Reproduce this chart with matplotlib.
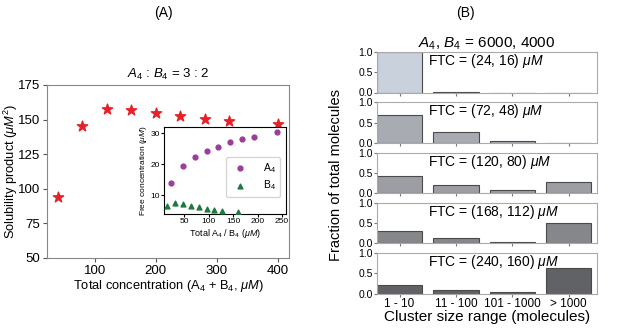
import numpy as np
import matplotlib
matplotlib.use("Agg")
import matplotlib.pyplot as plt

plt.rcParams['font.family'] = ['Liberation Sans', 'DejaVu Sans']
plt.rcParams['mathtext.fontset'] = 'custom'
plt.rcParams['mathtext.rm'] = 'Liberation Sans'
plt.rcParams['mathtext.it'] = 'Liberation Sans:italic'

# panel A: solubility product
total_conc = [40, 80, 120, 160, 200, 240, 280, 320, 400]
sol_product = [94, 145.5, 158, 157, 154.5, 152.5, 150.5, 149, 146.5]

# inset: free concentrations
total_a4 = [24, 48, 72, 96, 120, 144, 168, 192, 240]
free_a4 = [14.0, 19.5, 22.3, 24.2, 25.7, 27.0, 28.0, 28.9, 30.4]
total_b4 = [16, 32, 48, 64, 80, 96, 112, 128, 160]
free_b4 = [6.6, 7.5, 7.0, 6.4, 6.0, 5.5, 5.3, 5.0, 4.6]

# panel B: cluster size distributions
cluster_bins = ["1 - 10", "11 - 100", "101 - 1000", "> 1000"]
ftc_labels = ["(24, 16)", "(72, 48)", "(120, 80)", "(168, 112)", "(240, 160)"]
fractions = [
    [1.0, 0.005, 0.0, 0.0],
    [0.68, 0.27, 0.04, 0.0],
    [0.42, 0.19, 0.08, 0.28],
    [0.31, 0.13, 0.04, 0.50],
    [0.22, 0.10, 0.03, 0.63],
]
bar_colors = ["#c9d1dc", "#a8abb1", "#9c9ea3", "#85878b", "#606266"]

W, H = 617, 333
fig = plt.figure(figsize=(W / 100, H / 100), dpi=100)


def box(left, top, right, bottom):
    return [left / W, 1 - bottom / H, (right - left) / W, (bottom - top) / H]


# ---- panel A ----
ax = fig.add_axes(box(47, 85, 289, 258))
ax.scatter(total_conc, sol_product, marker='*', s=60, color='#e8202a', zorder=3)
ax.set_ylim(50, 175)
ax.set_yticks([50, 75, 100, 125, 150, 175])
ax.set_xticks([100, 200, 300, 400])
ax.tick_params(labelsize=9.5, length=3, pad=2, color='#555')
for s in ax.spines.values():
    s.set_color('#888')
ax.set_xlabel(r"Total concentration (A$_4$ + B$_4$, $\mu M$)", fontsize=9.3, labelpad=1)
ax.set_ylabel(r"Solubility product ($\mu M^2$)", fontsize=9.3)
ax.yaxis.set_label_coords(-27 / 242, 0.5)
ax.set_title(r"$A_4$ : $B_4$ = 3 : 2", fontsize=9.5, pad=5)

ins = fig.add_axes(box(164, 127, 285.5, 214))
ins.scatter(total_a4, free_a4, s=12, color='#9b3d9b', label=r"A$_4$", zorder=3)
ins.scatter(total_b4, free_b4, s=12, marker='^', color='#1d7a3c', label=r"B$_4$", zorder=3)
ins.set_xlim(9, 257)
ins.set_ylim(3.9, 32)
ins.set_xticks([50, 100, 150, 200, 250])
ins.set_yticks([10, 20, 30])
ins.tick_params(labelsize=6, length=2, pad=1)
ins.set_xlabel(r"Total A$_4$ / B$_4$ ($\mu M$)", fontsize=6.5, labelpad=1)
ins.set_ylabel(r"Free concentration ($\mu M$)", fontsize=6, labelpad=1)
ins.legend(loc='lower right', bbox_to_anchor=(1.0, 0.14), fontsize=7.5,
           handletextpad=1.2, borderpad=0.4, labelspacing=0.35, frameon=True)

fig.text(163 / W, 1 - 13 / H, "(A)", fontsize=10, ha='center', va='center')
fig.text(465 / W, 1 - 13 / H, "(B)", fontsize=10, ha='center', va='center')

# ---- panel B ----
x = np.arange(len(cluster_bins))
tops = [52, 102.3, 152.6, 202.9, 253.2]
for i, top in enumerate(tops):
    axb = fig.add_axes(box(377, top, 597, top + 40.5))
    axb.bar(x, fractions[i], width=0.8, color=bar_colors[i], edgecolor='#4a4a4a', linewidth=0.8)
    axb.set_xlim(-0.4, 3.5)
    axb.set_ylim(0, 1.0)
    axb.set_yticks([0.0, 0.5, 1.0])
    axb.set_xticks(x)
    axb.tick_params(labelsize=7.5, length=2, pad=1, color='#777')
    for s in axb.spines.values():
        s.set_color('#aaa')
    if i < len(tops) - 1:
        axb.set_xticklabels([])
    else:
        axb.set_xticklabels(cluster_bins, fontsize=8.5)
        axb.set_xlabel("Cluster size range (molecules)", fontsize=11, labelpad=0)
    axb.text(0.23, 0.78, "FTC = " + ftc_labels[i] + r" $\mu M$", transform=axb.transAxes,
             fontsize=10, ha='left', va='center')
    if i == 0:
        axb.set_title(r"$A_4$, $B_4$ = 6000, 4000", fontsize=11, pad=3)

fig.text(336 / W, 1 - 175 / H, "Fraction of total molecules", fontsize=10.5,
         rotation=90, ha='center', va='center')

fig.savefig("out.png", dpi=100)
